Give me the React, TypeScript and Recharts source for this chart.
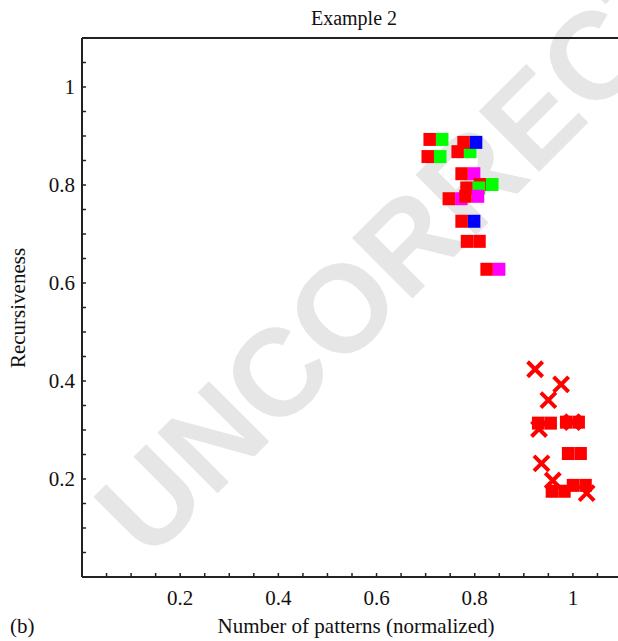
import React from "react";
import { ScatterChart, Scatter, XAxis, YAxis } from "recharts";

const COLORS: Record<string, string> = {
  red: "#ff0000",
  green: "#00ff00",
  blue: "#0000ff",
  magenta: "#ff00ff",
};

// upper cluster: two-colour square markers (red half left of the point)
const pairX = [0.721, 0.717, 0.778, 0.79, 0.786, 0.823, 0.796, 0.76, 0.794, 0.786, 0.797, 0.837];
const pairY = [0.893, 0.858, 0.868, 0.887, 0.823, 0.801, 0.794, 0.772, 0.777, 0.726, 0.685, 0.628];
const pairColor = ["green", "green", "green", "blue", "magenta", "green", "green", "magenta", "magenta", "blue", "red", "magenta"];

// lower cluster: crosses
const crossX = [0.923, 0.976, 0.95, 0.931, 0.999, 0.936, 0.959, 1.028];
const crossY = [0.424, 0.393, 0.361, 0.302, 0.316, 0.232, 0.197, 0.171];

// lower cluster: red double squares
const barX = [0.942, 0.999, 1.003, 1.013, 0.97];
const barY = [0.314, 0.316, 0.252, 0.187, 0.175];

const axisTicks = [
  0, 0.05, 0.1, 0.15, 0.2, 0.25, 0.3, 0.35, 0.4, 0.45, 0.5, 0.55,
  0.6, 0.65, 0.7, 0.75, 0.8, 0.85, 0.9, 0.95, 1, 1.05, 1.1,
];
const tickLabels: Record<string, string> = {
  "0.2": "0.2",
  "0.4": "0.4",
  "0.6": "0.6",
  "0.8": "0.8",
  "1": "1",
};

const pairData = pairX.map((x, i) => ({ x, y: pairY[i], c: COLORS[pairColor[i]] }));
const crossData = crossX.map((x, i) => ({ x, y: crossY[i] }));
const barData = barX.map((x, i) => ({ x, y: barY[i], c: COLORS.red }));

const FONT = "'Liberation Serif', 'Times New Roman', serif";

if (typeof document !== "undefined") {
  document.body.style.margin = "0";
  document.documentElement.style.overflow = "hidden";
}

function PairShape(props: any) {
  const { cx, cy, payload } = props;
  const w = 12.5;
  const h = 13;
  return (
    <g>
      <rect x={cx - w} y={cy - h / 2} width={w} height={h} fill={COLORS.red} />
      <rect x={cx} y={cy - h / 2} width={w} height={h} fill={payload.c} />
    </g>
  );
}

function CrossShape(props: any) {
  const { cx, cy } = props;
  const s = 7.5;
  return (
    <g stroke={COLORS.red} strokeWidth={4}>
      <line x1={cx - s} y1={cy - s} x2={cx + s} y2={cy + s} />
      <line x1={cx - s} y1={cy + s} x2={cx + s} y2={cy - s} />
    </g>
  );
}

const fmt = (v: number) => tickLabels[String(+v.toFixed(2))] ?? "";

export default function App() {
  const axisLine = { stroke: "#222", strokeWidth: 2 };
  const tickLine = { stroke: "#222", strokeWidth: 1.5 };
  const tickStyle = { fill: "#111", fontSize: 21, fontFamily: FONT };

  return (
    <div style={{ position: "relative", width: 618, height: 641, overflow: "hidden", fontFamily: FONT }}>
      {/* watermark */}
      <div
        style={{
          position: "absolute",
          left: 459,
          top: 191,
          transform: "translate(-50%, -50%) rotate(-45deg)",
          fontFamily: "'Liberation Sans', Arial, sans-serif",
          fontWeight: "bold",
          fontSize: 124,
          lineHeight: "124px",
          color: "#e6e6e6",
          whiteSpace: "nowrap",
        }}
      >
        UNCORRECTED
      </div>
      <div style={{ position: "absolute", left: 8, top: 8 }}>
        <ScatterChart width={620} height={633} margin={{ top: 0, right: 6, bottom: 0, left: 0 }}>
          <XAxis
            xAxisId="b"
            type="number"
            dataKey="x"
            orientation="bottom"
            domain={[0, 1.1]}
            ticks={axisTicks}
            interval={0}
            height={64}
            tickSize={-4}
            tickMargin={17}
            tickFormatter={fmt}
            axisLine={axisLine}
            tickLine={tickLine}
            tick={tickStyle}
            label={{
              value: "Number of patterns (normalized)",
              position: "insideBottom",
              offset: 8,
              dx: 4,
              style: { fill: "#111", fontSize: 21, fontFamily: FONT },
            }}
          />
          <XAxis
            xAxisId="t"
            type="number"
            dataKey="x"
            orientation="top"
            domain={[0, 1.1]}
            ticks={axisTicks}
            interval={0}
            height={30}
            tickSize={-4}
            tickFormatter={() => ""}
            axisLine={axisLine}
            tickLine={tickLine}
          />
          <YAxis
            type="number"
            dataKey="y"
            domain={[0, 1.1]}
            ticks={axisTicks}
            interval={0}
            width={74}
            tickSize={-4}
            tickMargin={11}
            tickFormatter={fmt}
            axisLine={axisLine}
            tickLine={tickLine}
            tick={tickStyle}
          />
          <Scatter xAxisId="b" data={pairData} shape={PairShape} isAnimationActive={false} />
          <Scatter xAxisId="b" data={crossData} shape={CrossShape} isAnimationActive={false} />
          <Scatter xAxisId="b" data={barData} shape={PairShape} isAnimationActive={false} />
        </ScatterChart>
      </div>
      <div
        style={{
          position: "absolute",
          left: 354,
          top: 8,
          transform: "translateX(-50%)",
          fontSize: 20,
          lineHeight: "20px",
          color: "#111",
          whiteSpace: "nowrap",
        }}
      >
        Example 2
      </div>
      <div
        style={{
          position: "absolute",
          left: 18,
          top: 308,
          transform: "translate(-50%, -50%) rotate(-90deg)",
          fontSize: 21,
          lineHeight: "21px",
          color: "#111",
          whiteSpace: "nowrap",
        }}
      >
        Recursiveness
      </div>
      <div
        style={{
          position: "absolute",
          left: 10,
          top: 616,
          fontSize: 21,
          lineHeight: "21px",
          color: "#111",
        }}
      >
        (b)
      </div>
    </div>
  );
}
